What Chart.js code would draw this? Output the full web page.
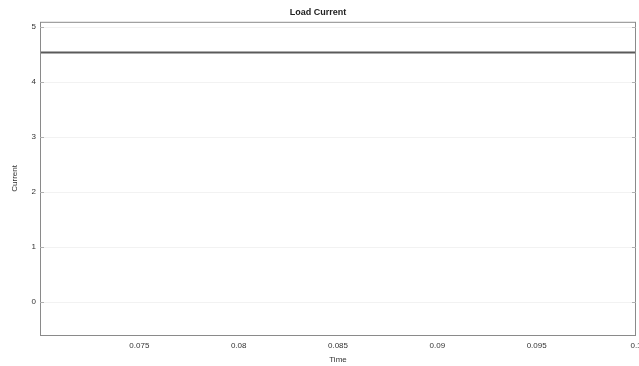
<!DOCTYPE html>
<html>
<head>
<meta charset="utf-8">
<script src="https://cdn.jsdelivr.net/npm/chart.js@4.4.1/dist/chart.umd.min.js"></script>
<style>
  html, body { margin: 0; padding: 0; background: #fff; }
  #wrap { width: 639px; height: 366px; }
</style>
</head>
<body>
<div id="wrap"><canvas id="loadChart"></canvas></div>
<script>
// sample times (s) and load current
const time = [0.07, 0.0725, 0.075, 0.0775, 0.08, 0.0825, 0.085, 0.0875, 0.09, 0.0925, 0.095, 0.0975, 0.1];
const current = [4.54, 4.54, 4.54, 4.54, 4.54, 4.54, 4.54, 4.54, 4.54, 4.54, 4.54, 4.54, 4.54];
const xTicks = [0.075, 0.08, 0.085, 0.09, 0.095, 0.1];
const yTicks = [0, 1, 2, 3, 4, 5];

const frame = {
    id: 'frame',
    afterDatasetsDraw(chart) {
        const a = chart.chartArea;
        const c = chart.ctx;
        c.save();
        c.strokeStyle = '#8a8a8a';
        c.lineWidth = 1;
        c.strokeRect(a.left + 0.5, a.top + 0.5, a.right - a.left - 1, a.bottom - a.top);
        // small inward tick marks like the original plot
        c.strokeStyle = '#b0b0b0';
        c.beginPath();
        const ys = chart.scales.y;
        yTicks.forEach(v => {
            const y = Math.round(ys.getPixelForValue(v)) + 0.5;
            c.moveTo(a.left, y); c.lineTo(a.left + 4, y);
            c.moveTo(a.right, y); c.lineTo(a.right - 4, y);
        });
        c.stroke();
        c.restore();
    }
};

document.addEventListener('DOMContentLoaded', function () {
    const ctx = document.getElementById('loadChart').getContext('2d');
    new Chart(ctx, {
        type: 'line',
        data: {
            datasets: [{
                label: 'Load Current',
                data: time.map((t, i) => ({ x: t, y: current[i] })),
                borderColor: '#5a5a5a',
                borderWidth: 2,
                pointRadius: 0,
                tension: 0
            }]
        },
        options: {
            responsive: true,
            maintainAspectRatio: false,
            animation: false,
            layout: { padding: { left: 0, right: 3, top: 0, bottom: 0 } },
            plugins: {
                legend: { display: false },
                tooltip: { enabled: false },
                title: {
                    display: true,
                    text: 'Load Current',
                    color: '#222',
                    font: { family: 'Liberation Sans', size: 9, weight: 'bold' },
                    padding: { top: 7, bottom: 4 }
                }
            },
            scales: {
                x: {
                    type: 'linear',
                    min: 0.07,
                    max: 0.1,
                    afterBuildTicks: s => { s.ticks = xTicks.map(v => ({ value: v })); },
                    afterFit: s => { s.height = 31; s.paddingRight = 0; s.paddingLeft = 0; },
                    grid: { display: false, drawTicks: false },
                    border: { display: false },
                    ticks: {
                        color: '#333',
                        padding: 6,
                        maxRotation: 0,
                        font: { family: 'Liberation Sans', size: 8 },
                        callback: v => String(v)
                    },
                    title: {
                        display: true,
                        text: 'Time',
                        color: '#333',
                        font: { family: 'Liberation Sans', size: 8 },
                        padding: { top: 0, bottom: 1 }
                    }
                },
                y: {
                    min: -0.6,
                    max: 5.1,
                    afterBuildTicks: s => { s.ticks = yTicks.map(v => ({ value: v })); },
                    afterFit: s => { s.width = 40; },
                    grid: { color: '#f2f2f2', drawTicks: false },
                    border: { display: false },
                    ticks: {
                        color: '#333',
                        padding: 4,
                        font: { family: 'Liberation Sans', size: 8 }
                    },
                    title: {
                        display: true,
                        text: 'Current',
                        color: '#333',
                        font: { family: 'Liberation Sans', size: 8 },
                        padding: { top: 10, bottom: 0 }
                    }
                }
            }
        },
        plugins: [frame]
    });
});
</script>
</body>
</html>
